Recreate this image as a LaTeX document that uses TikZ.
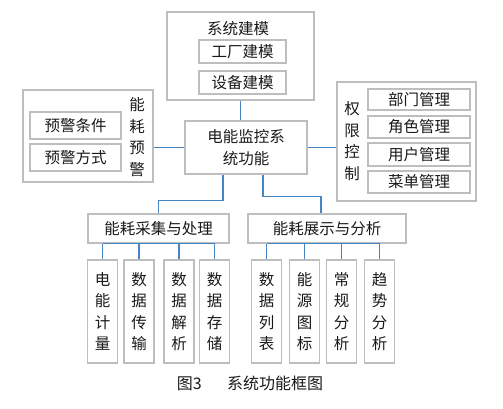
\documentclass[tikz,border=0pt]{standalone}
\usepackage{fontspec}
\newfontfamily\cjk{Noto Sans CJK SC}
\usetikzlibrary{calc}
\definecolor{boxgray}{RGB}{190,190,190}
\definecolor{linkblue}{RGB}{70,132,198}
\begin{document}
\begin{tikzpicture}[x=1pt,y=-1pt,
  box/.style={draw=boxgray,line width=1.5pt,inner sep=0pt,
    font=\cjk\fontsize{15.5}{21.5}\selectfont,text=black!90},
  txt/.style={inner sep=0pt,align=center,font=\cjk\fontsize{15.5}{21.5}\selectfont,text=black!90},
  link/.style={draw=linkblue,line width=1.3pt}]
\useasboundingbox (0,0) rectangle (503,408);
% system modelling
\node[box,minimum width=147pt,minimum height=88pt] (sys) at (240.5,56) {};
\node[txt] (systitle) at (238,29) {系统建模};
\node[box,minimum width=87pt,minimum height=23pt] (gc) at (242.5,51.5) {工厂建模};
\node[box,minimum width=87pt,minimum height=23pt] (sb) at (242.5,82.5) {设备建模};
% warning
\node[box,minimum width=130pt,minimum height=92pt] (warn) at (88,136) {};
\node[box,minimum width=91pt,minimum height=27pt] (w1) at (75.5,125.5) {预警条件};
\node[box,minimum width=91pt,minimum height=27pt] (w2) at (75.5,157.5) {预警方式};
\node[txt] (warntitle) at (137,137) {能\\耗\\预\\警};
% centre
\node[box,minimum width=122pt,minimum height=53pt,align=center] (ctr) at (246,147.5) {电能监控系\\统功能};
% permissions
\node[box,minimum width=139pt,minimum height=119pt] (perm) at (406.5,141.5) {};
\node[box,minimum width=102pt,minimum height=21pt] (p1) at (419,99.5) {部门管理};
\node[box,minimum width=102pt,minimum height=22pt] (p2) at (419,127) {角色管理};
\node[box,minimum width=102pt,minimum height=23pt] (p3) at (419,154.5) {用户管理};
\node[box,minimum width=102pt,minimum height=22pt] (p4) at (419,182) {菜单管理};
\node[txt] (permtitle) at (352,141) {权\\限\\控\\制};
% second level
\node[box,minimum width=141pt,minimum height=29pt] (acq) at (158.5,228.5) {能耗采集与处理};
\node[box,minimum width=158pt,minimum height=29pt] (disp) at (327,228.5) {能耗展示与分析};
% leaves
\tikzset{leaf/.style={box,minimum width=30pt,minimum height=103pt,align=center}}
\node[leaf] (a1) at (102.5,311.5) {电\\能\\计\\量};
\node[leaf] (a2) at (139,311.5) {数\\据\\传\\输};
\node[leaf] (a3) at (179,311.5) {数\\据\\解\\析};
\node[leaf] (a4) at (214.5,311.5) {数\\据\\存\\储};
\node[leaf] (b1) at (266.5,311.5) {数\\据\\列\\表};
\node[leaf] (b2) at (304.5,311.5) {能\\源\\图\\标};
\node[leaf] (b3) at (341.5,311.5) {常\\规\\分\\析};
\node[leaf] (b4) at (379.5,311.5) {趋\\势\\分\\析};
% caption
\node[txt,font=\cjk\fontsize{16}{18}\selectfont] (cap) at (250,383) {图3\hspace{1.6em}系统功能框图};
% connectors
\draw[link] (sys.south) -- (sys.south |- ctr.north);
\draw[link] (warn.east |- ctr.west) -- (ctr.west);
\draw[link] (ctr.east) -- (ctr.east -| perm.west);
\draw[link] ($(ctr.south)+(-23,0)$) -- ++(0,26) -| (acq.north);
\draw[link] ($(ctr.south)+(17,0)$) -- ++(0,22) -| ($(disp.north)+(-6,0)$);
\foreach \n in {a1,a2,a3,a4} \draw[link] (\n.north) -- (\n.north |- acq.south);
\draw[link] (a1.north |- acq.south) -- (a4.north |- acq.south);
\foreach \n in {b1,b2,b3,b4} \draw[link] (\n.north) -- (\n.north |- disp.south);
\draw[link] (b1.north |- disp.south) -- (b4.north |- disp.south);
\end{tikzpicture}
\end{document}
